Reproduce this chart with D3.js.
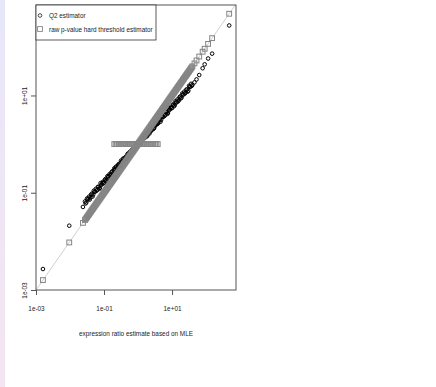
<!DOCTYPE html>
<html>
<head>
<meta charset="utf-8">
<script src="https://cdn.jsdelivr.net/npm/d3@7"></script>
<style>
  html, body { margin: 0; padding: 0; background: #fff; }
  svg text { font-family: "Liberation Sans", Arial, sans-serif; fill: #222; }
</style>
</head>
<body>
<svg id="chart" width="436" height="387"></svg>
<script>
// one entry per gene: MLE ratio, Q2 estimate, raw p-value hard threshold estimate
const mle = [
  1.6e-3, 9.5e-3, 2.4e-2,
  2.75e-2, 3.02e-2, 3.31e-2, 3.63e-2, 3.98e-2, 4.37e-2, 4.79e-2, 5.25e-2, 5.75e-2, 6.31e-2,
  6.92e-2, 7.59e-2, 8.32e-2, 9.12e-2, 0.100, 0.110, 0.120, 0.132, 0.145, 0.158,
  0.174, 0.191, 0.209, 0.229, 0.251, 0.275, 0.302, 0.331, 0.363, 0.398,
  0.437, 0.479, 0.525, 0.575, 0.631, 0.692, 0.759, 0.832, 0.912, 1.00,
  1.10, 1.20, 1.32, 1.45, 1.58, 1.74, 1.91, 2.09, 2.29, 2.51,
  2.75, 3.02, 3.31, 3.63, 3.98, 4.37, 4.79, 5.25, 5.75, 6.31,
  6.92, 7.59, 8.32, 9.12, 10.0, 11.0, 12.0, 13.2, 14.5, 15.8,
  17.4, 19.1, 20.9, 22.9, 25.1, 27.5, 30.2, 33.1, 36.3, 39.8,
  2.88e-2, 3.16e-2, 3.47e-2, 3.80e-2, 4.17e-2, 4.57e-2, 5.01e-2, 5.50e-2, 6.03e-2, 6.61e-2,
  7.24e-2, 7.94e-2, 8.71e-2, 9.55e-2, 0.105, 0.115, 0.126, 0.138, 0.151, 0.166,
  0.182, 0.200, 0.219, 0.240, 0.263, 0.288, 0.316, 0.347, 0.380, 0.417,
  0.457, 0.501, 0.550, 0.603, 0.661, 0.724, 0.794, 0.871, 0.955, 1.05,
  1.15, 1.26, 1.38, 1.51, 1.66, 1.82, 2.00, 2.19, 2.40, 2.63,
  2.88, 3.16, 3.47, 3.80, 4.17, 4.57, 5.01, 5.50, 6.03, 6.61,
  7.24, 7.94, 8.71, 9.55, 10.5, 11.5, 12.6, 13.8, 15.1, 16.6,
  18.2, 20.0, 21.9, 24.0, 26.3, 28.8, 31.6, 34.7, 38.0,
  0.200, 0.219, 0.240, 0.263, 0.288, 0.316, 0.347, 0.380, 0.417, 0.457, 0.501,
  0.550, 0.603, 0.661, 0.724, 0.794, 0.871, 0.955, 1.05, 1.15, 1.26, 1.38,
  1.51, 1.66, 1.82, 2.00, 2.19, 2.40, 2.63, 2.88, 3.16, 3.47, 3.80,
  45.7, 52.5, 63.1, 79.4, 91.2, 115, 151, 479
];
const q2 = [
  2.7e-3, 2.1e-2, 5.1e-2,
  6.61e-2, 6.31e-2, 7.24e-2, 8.32e-2, 7.94e-2, 9.55e-2, 9.12e-2, 0.105, 0.120, 0.115,
  0.132, 0.126, 0.145, 0.166, 0.158, 0.191, 0.182, 0.209, 0.240, 0.229,
  0.275, 0.263, 0.302, 0.347, 0.331, 0.380, 0.363, 0.437, 0.501, 0.479,
  0.550, 0.525, 0.603, 0.692, 0.661, 0.794, 0.759, 0.871, 1.00, 0.955,
  1.15, 1.10, 1.26, 1.45, 1.38, 1.58, 1.51, 1.74, 2.00, 1.91,
  2.29, 2.19, 2.51, 2.88, 2.75, 3.31, 3.16, 3.63, 4.17, 3.98,
  4.57, 4.37, 5.01, 5.75, 5.50, 6.61, 6.31, 7.24, 8.32, 7.94,
  9.55, 9.12, 10.5, 12.0, 11.5, 13.2, 12.6, 15.1, 17.4, 16.6,
  6.03e-2, 7.59e-2, 7.59e-2, 7.24e-2, 9.12e-2, 8.32e-2, 0.110, 0.105, 0.110, 0.132,
  0.120, 0.158, 0.151, 0.158, 0.182, 0.174, 0.219, 0.219, 0.229, 0.263,
  0.240, 0.316, 0.302, 0.316, 0.380, 0.347, 0.457, 0.437, 0.457, 0.525,
  0.501, 0.631, 0.631, 0.661, 0.759, 0.724, 0.912, 0.912, 0.955, 1.10,
  1.00, 1.32, 1.26, 1.32, 1.51, 1.45, 1.91, 1.82, 1.91, 2.19,
  2.09, 2.63, 2.51, 2.63, 3.16, 2.88, 3.80, 3.63, 3.80, 4.57,
  4.17, 5.50, 5.25, 5.50, 6.31, 6.03, 7.59, 7.24, 7.59, 9.12,
  8.71, 11.0, 10.5, 11.0, 13.2, 12.0, 15.8, 15.1, 15.8,
  0.288, 0.331, 0.316, 0.363, 0.398, 0.380, 0.437, 0.501, 0.479, 0.550, 0.631,
  0.603, 0.692, 0.759, 0.724, 0.832, 0.955, 0.912, 1.05, 1.15, 1.15, 1.26,
  1.45, 1.38, 1.58, 1.74, 1.66, 1.91, 2.19, 2.09, 2.40, 2.63, 2.75,
  18.6, 21.4, 26.3, 36.3, 43.7, 57.5, 72.4, 275
];
const raw = [
  1.6e-3, 9.5e-3, 2.4e-2,
  2.75e-2, 3.02e-2, 3.31e-2, 3.63e-2, 3.98e-2, 4.37e-2, 4.79e-2, 5.25e-2, 5.75e-2, 6.31e-2,
  6.92e-2, 7.59e-2, 8.32e-2, 9.12e-2, 0.100, 0.110, 0.120, 0.132, 0.145, 0.158,
  0.174, 0.191, 0.209, 0.229, 0.251, 0.275, 0.302, 0.331, 0.363, 0.398,
  0.437, 0.479, 0.525, 0.575, 0.631, 0.692, 0.759, 0.832, 0.912, 1.00,
  1.10, 1.20, 1.32, 1.45, 1.58, 1.74, 1.91, 2.09, 2.29, 2.51,
  2.75, 3.02, 3.31, 3.63, 3.98, 4.37, 4.79, 5.25, 5.75, 6.31,
  6.92, 7.59, 8.32, 9.12, 10.0, 11.0, 12.0, 13.2, 14.5, 15.8,
  17.4, 19.1, 20.9, 22.9, 25.1, 27.5, 30.2, 33.1, 36.3, 39.8,
  2.88e-2, 3.16e-2, 3.47e-2, 3.80e-2, 4.17e-2, 4.57e-2, 5.01e-2, 5.50e-2, 6.03e-2, 6.61e-2,
  7.24e-2, 7.94e-2, 8.71e-2, 9.55e-2, 0.105, 0.115, 0.126, 0.138, 0.151, 0.166,
  0.182, 0.200, 0.219, 0.240, 0.263, 0.288, 0.316, 0.347, 0.380, 0.417,
  0.457, 0.501, 0.550, 0.603, 0.661, 0.724, 0.794, 0.871, 0.955, 1.05,
  1.15, 1.26, 1.38, 1.51, 1.66, 1.82, 2.00, 2.19, 2.40, 2.63,
  2.88, 3.16, 3.47, 3.80, 4.17, 4.57, 5.01, 5.50, 6.03, 6.61,
  7.24, 7.94, 8.71, 9.55, 10.5, 11.5, 12.6, 13.8, 15.1, 16.6,
  18.2, 20.0, 21.9, 24.0, 26.3, 28.8, 31.6, 34.7, 38.0,
  1, 1, 1, 1, 1, 1, 1, 1, 1, 1, 1,
  1, 1, 1, 1, 1, 1, 1, 1, 1, 1, 1,
  1, 1, 1, 1, 1, 1, 1, 1, 1, 1, 1,
  45.7, 52.5, 63.1, 79.4, 91.2, 115, 151, 479
];

const tickValues = [1e-3, 1e-1, 1e1];
const tickLabels = ['1e-03', '1e-01', '1e+01'];
const seriesNames = ['Q2 estimator', 'raw p-value hard threshold estimator'];
const xTitle = 'expression ratio estimate based on MLE';

const svg = d3.select('#chart');
const fs = 7.8;
const narrow = 'scale(0.82,1)'; // the original uses a condensed face

// faint strip on the left edge
const grad = svg.append('defs').append('linearGradient')
  .attr('id', 'strip').attr('x1', 0).attr('y1', 0).attr('x2', 0).attr('y2', 1);
grad.append('stop').attr('offset', 0).attr('stop-color', '#e7e7fa');
grad.append('stop').attr('offset', 1).attr('stop-color', '#f4e5f0');
svg.append('rect').attr('x', 0).attr('y', 0).attr('width', 5).attr('height', 387)
  .attr('fill', 'url(#strip)');

const plotL = 36, plotR = 236, plotT = 5, plotB = 290;

let x = d3.scaleLog().domain([1e-3, 760]).range([plotL, plotR]);
let y = d3.scaleLog().domain([1e-3, 725]).range([plotB, plotT]);

// y = x reference line
svg.append('line')
  .attr('x1', x(1e-3)).attr('y1', y(1e-3))
  .attr('x2', x(725)).attr('y2', y(725))
  .attr('stroke', '#c4c4c4').attr('stroke-width', 0.8);

let idx = d3.range(mle.length);

// Q2 estimator, open circles
svg.append('g').selectAll('circle')
  .data(idx)
  .join('circle')
  .attr('cx', i => x(mle[i]))
  .attr('cy', i => y(q2[i]))
  .attr('r', 1.8)
  .attr('fill', 'none')
  .attr('stroke', '#000')
  .attr('stroke-width', 1);

// raw p-value hard threshold, open squares
svg.append('g').selectAll('rect')
  .data(idx)
  .join('rect')
  .attr('x', i => x(mle[i]) - 2.4)
  .attr('y', i => y(raw[i]) - 2.4)
  .attr('width', 4.8)
  .attr('height', 4.8)
  .attr('fill', 'none')
  .attr('stroke', '#858585')
  .attr('stroke-width', 1);

// plot box
svg.append('rect')
  .attr('x', plotL).attr('y', plotT)
  .attr('width', plotR - plotL).attr('height', plotB - plotT)
  .attr('fill', 'none').attr('stroke', '#555').attr('stroke-width', 1);

// X axis
let xAxis = svg.append('g')
  .attr('transform', 'translate(0,' + plotB + ')')
  .call(d3.axisBottom(x).tickValues(tickValues).tickFormat((d, i) => tickLabels[i]).tickSize(5));
xAxis.select('.domain').remove();
xAxis.selectAll('line').attr('stroke', '#555');
xAxis.selectAll('text')
  .attr('y', 15).attr('dy', '0.71em')
  .attr('transform', narrow)
  .attr('font-size', fs).attr('fill', '#222');

// Y axis
let yAxis = svg.append('g')
  .attr('transform', 'translate(' + plotL + ',0)')
  .call(d3.axisLeft(y).tickValues(tickValues).tickFormat((d, i) => tickLabels[i]).tickSize(5));
yAxis.select('.domain').remove();
yAxis.selectAll('line').attr('stroke', '#555');
yAxis.selectAll('text')
  .attr('transform', 'rotate(-90) ' + narrow)
  .attr('x', 0).attr('y', -9).attr('dy', 0)
  .attr('text-anchor', 'middle')
  .attr('font-size', fs).attr('fill', '#222');

// x title
svg.append('text')
  .attr('transform', 'translate(' + (plotL + plotR) / 2 + ',336) ' + narrow)
  .attr('text-anchor', 'middle')
  .attr('font-size', fs)
  .text(xTitle);

// legend
let lg = svg.append('g');
lg.append('rect')
  .attr('x', plotL).attr('y', plotT)
  .attr('width', 120).attr('height', 35)
  .attr('fill', '#fff').attr('stroke', '#333').attr('stroke-width', 0.8);
lg.append('circle')
  .attr('cx', 40).attr('cy', 15.5).attr('r', 1.8)
  .attr('fill', 'none').attr('stroke', '#333').attr('stroke-width', 0.9);
lg.append('rect')
  .attr('x', 37.6).attr('y', 26.6).attr('width', 4.8).attr('height', 4.8)
  .attr('fill', 'none').attr('stroke', '#858585').attr('stroke-width', 0.9);
lg.selectAll('text')
  .data(seriesNames)
  .join('text')
  .attr('transform', (d, i) => 'translate(49,' + (18.3 + i * 13.5) + ') ' + narrow)
  .attr('font-size', fs)
  .text(d => d);
</script>
</body>
</html>
